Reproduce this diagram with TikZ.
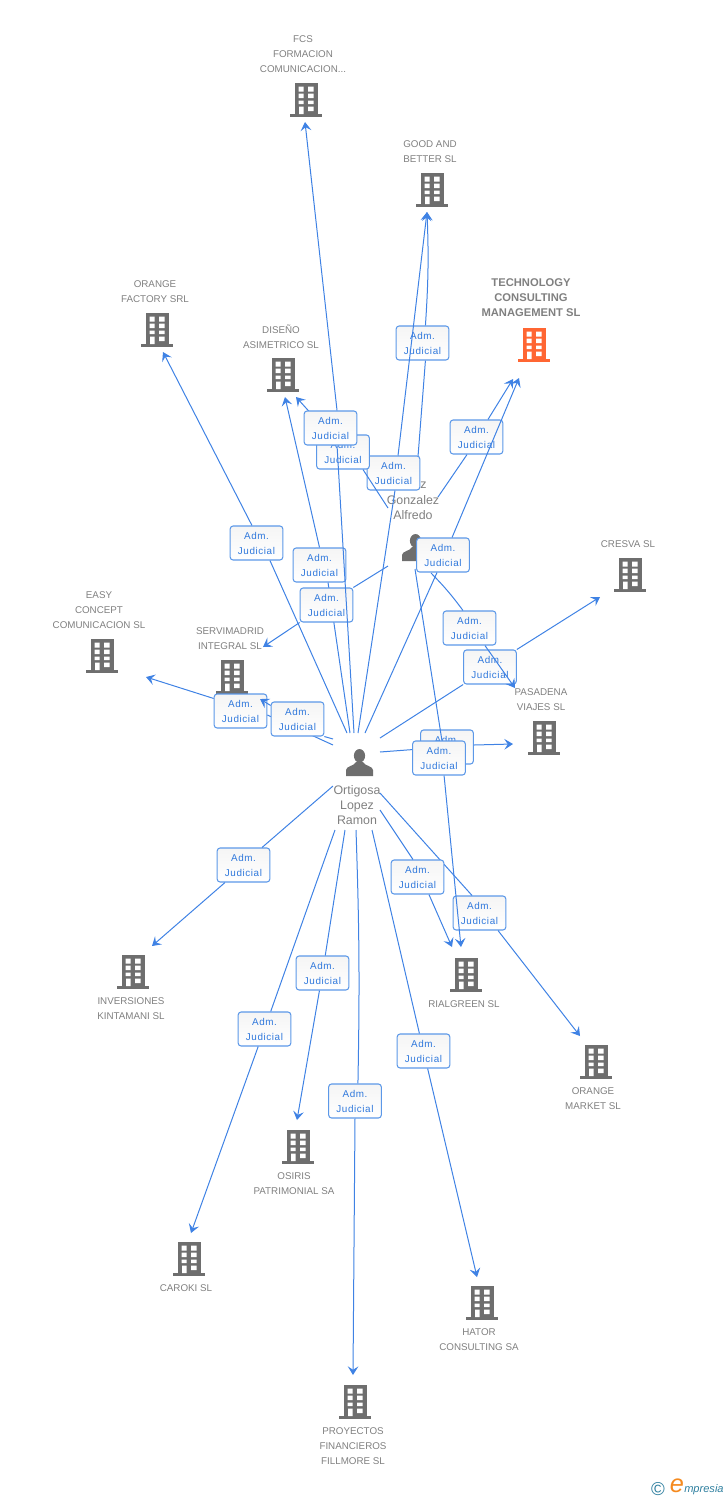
\documentclass[tikz,border=0pt]{standalone}
\usepackage{fontspec}
\setmainfont{Liberation Sans}
\usetikzlibrary{arrows.meta}
\definecolor{edgeblue}{HTML}{3F82E4}
\definecolor{labblue}{HTML}{2F78DC}
\definecolor{boxblue}{HTML}{5C98E8}
\definecolor{txtgrey}{HTML}{808080}
\definecolor{icongrey}{HTML}{6E6E6E}
\definecolor{hotorange}{HTML}{FF6633}
\definecolor{logoteal}{HTML}{2F7F9F}
\definecolor{logoorange}{HTML}{F58A1F}
\tikzset{
  edge/.style={draw=edgeblue,line width=0.75pt},
  tip/.style={edge,-{Stealth[length=6.5pt,width=8pt,inset=2.6pt]}},
  adm/.style={draw=boxblue,line width=0.8pt,rounded corners=2.2pt,top color=black!4,bottom color=white,
    minimum width=39.5pt,minimum height=25.5pt,inner sep=0pt,align=center,text=labblue,
    font=\fontsize{7.4}{11.25}\selectfont\addfontfeatures{LetterSpace=6}},
  co/.style={text=txtgrey,align=center,inner sep=0pt,font=\fontsize{7.35}{11.25}\selectfont},
  cohot/.style={text=txtgrey,align=center,inner sep=0pt,font=\fontsize{8.4}{11.25}\selectfont\bfseries},
  pers/.style={text=txtgrey,align=center,inner sep=0pt,font=\fontsize{9.3}{11.25}\selectfont},
  pics/bldg/.style={code={
    \fill[#1] (-11.5,0) rectangle (11.5,32);
    \fill[#1] (-16,31) rectangle (16,34);
    \fill[white] (-7.5,3.5) rectangle (-2.5,8.5) (2,3.5) rectangle (7.5,8.5)
      (-7.5,10.5) rectangle (-2.5,15) (2,10.5) rectangle (7.5,15)
      (-7.5,17.5) rectangle (-2.5,21) (2,17.5) rectangle (7.5,21)
      (-7,23.5) rectangle (-2.5,31) (2,23.5) rectangle (7.5,28);
  }},
  pics/person/.style={code={
    \fill[icongrey] (0,6.8) ellipse [x radius=5.6,y radius=6.8];
    \fill[icongrey] (-13.5,27) -- (-13.5,21) .. controls (-13.5,17) and (-5,17) .. (-3.5,13)
      -- (3.5,13) .. controls (5,17) and (13.5,17) .. (13.5,21) -- (13.5,27) -- cycle;
  }}
}
\newcommand{\adml}{Adm.\\Judicial}
\begin{document}
\begin{tikzpicture}[x=0.75pt,y=-0.75pt]
\useasboundingbox (0,0) rectangle (728,1500);
% company icons
\pic (bFCS) at (306,83) {bldg=icongrey};
\pic (bGOOD) at (432,173) {bldg=icongrey};
\pic (bTECH) at (534,328) {bldg=hotorange};
\pic (bOF) at (157,313) {bldg=icongrey};
\pic (bDIS) at (283,358) {bldg=icongrey};
\pic (bCRE) at (630,558) {bldg=icongrey};
\pic (bEASY) at (102,639) {bldg=icongrey};
\pic (bSERV) at (232,660) {bldg=icongrey};
\pic (bPAS) at (544,721) {bldg=icongrey};
\pic (bINV) at (133,955) {bldg=icongrey};
\pic (bRIAL) at (466,958) {bldg=icongrey};
\pic (bOM) at (596,1045) {bldg=icongrey};
\pic (bOSI) at (298,1130) {bldg=icongrey};
\pic (bCAR) at (189,1242) {bldg=icongrey};
\pic (bHAT) at (482,1286) {bldg=icongrey};
\pic (bPRO) at (355,1385) {bldg=icongrey};
% company names
\node[co] (tFCS) at (303,54) {FCS\\FORMACION\\COMUNICACION...};
\node[co] (tGOOD) at (430,151.5) {GOOD AND\\BETTER SL};
\node[cohot] (tTECH) at (531,298) {TECHNOLOGY\\CONSULTING\\MANAGEMENT SL};
\node[co] (tOF) at (155,291.5) {ORANGE\\FACTORY SRL};
\node[co] (tDIS) at (281,336.5) {DISEÑO\\ASIMETRICO SL};
\node[co] (tCRE) at (628,544) {CRESVA SL};
\node[co] (tEASY) at (99,610) {EASY\\CONCEPT\\COMUNICACION SL};
\node[co] (tSERV) at (230,638.5) {SERVIMADRID\\INTEGRAL SL};
\node[co] (tPAS) at (541,699.5) {PASADENA\\VIAJES SL};
\node[co] (tINV) at (131,1008.5) {INVERSIONES\\KINTAMANI SL};
\node[co] (tRIAL) at (464,1004) {RIALGREEN SL};
\node[co] (tOM) at (593,1098.5) {ORANGE\\MARKET SL};
\node[co] (tOSI) at (294,1183.5) {OSIRIS\\PATRIMONIAL SA};
\node[co] (tCAR) at (186,1288) {CAROKI SL};
\node[co] (tHAT) at (479,1339.5) {HATOR\\CONSULTING SA};
\node[co] (tPRO) at (353,1446) {PROYECTOS\\FINANCIEROS\\FILLMORE SL};
% people
\pic (pO) at (359.5,749) {person};
\node[pers] (tO) at (357,805) {Ortigosa\\Lopez\\Ramon};
\pic (pA) at (415.5,534) {person};
\node[pers] (tAz) at (423.5,485) {z};
\node[pers] (tA) at (413,507.5) {Gonzalez\\Alfredo};
% free ends: sources
\coordinate (oa) at (347,733);
\coordinate (ob) at (350,733);
\coordinate (oc) at (354,733);
\coordinate (od) at (358,733);
\coordinate (oe) at (365,733);
\coordinate (of) at (380,738);
\coordinate (og) at (380,752);
\coordinate (oh) at (333,745);
\coordinate (oi) at (333,739);
\coordinate (oj) at (333,786);
\coordinate (ok) at (335,830);
\coordinate (ol) at (345,830);
\coordinate (om) at (356,830);
\coordinate (on) at (372,830);
\coordinate (oo) at (380,810);
\coordinate (op) at (380,793);
\coordinate (aa) at (388,508);
\coordinate (ab) at (388,566);
\coordinate (ac) at (438,497);
\coordinate (ad) at (431,573);
\coordinate (ae) at (415,569);
\coordinate (af) at (415.5,489);
% free ends: arrow tips
\coordinate (xa) at (163,352);
\coordinate (xb) at (285,397);
\coordinate (xc) at (305,122);
\coordinate (xd) at (427,212);
\coordinate (xe) at (519,378);
\coordinate (xf) at (600,597);
\coordinate (xg) at (513,744);
\coordinate (xh) at (146,677);
\coordinate (xi) at (260,699);
\coordinate (xj) at (152,946);
\coordinate (xk) at (191,1233);
\coordinate (xl) at (297,1120);
\coordinate (xm) at (353,1375);
\coordinate (xn) at (477,1277);
\coordinate (xo) at (452,947);
\coordinate (xp) at (580,1036);
\coordinate (xq) at (296,397);
\coordinate (xr) at (263,647);
\coordinate (xs) at (513,379);
\coordinate (xt) at (515,688);
\coordinate (xu) at (461,947);
% connectors with their labels
\node[adm] (L1) at (256.5,543) {\adml};
\draw[edge] (oa) -- ([xshift=10.1pt]L1.south); \draw[tip] ([xshift=-3.4pt]L1.north) -- (xa);
\node[adm] (L2) at (422.5,343) {\adml};
\draw[edge] (af) -- ([xshift=2.2pt]L2.south); \draw[tip] ([xshift=2.2pt]L2.north) to[bend right=3] (xd);
\node[adm] (L3) at (393.5,473) {\adml};
\draw[edge] (od) -- ([xshift=1.1pt]L3.south); \draw[tip] ([xshift=3.4pt]L3.north) -- (xd);
\node[adm] (L4) at (343,452) {\adml};
\draw[edge] (aa) -- ([xshift=15pt]L4.south); \draw[tip] ([xshift=-9.75pt]L4.north) -- (xq);
\node[adm] (L5) at (319.5,565) {\adml};
\draw[edge] (ob) -- ([xshift=6.4pt]L5.south); \draw[tip] (L5.north) -- (xb);
\node[adm] (L6) at (326.5,605) {\adml};
\draw[edge] (ab) -- (L6.north east); \draw[tip] (L6.south west) -- (xr);
\node[adm] (L7) at (330.5,428) {\adml};
\draw[edge] (oc) -- ([xshift=4.9pt]L7.south); \draw[tip] ([xshift=4.9pt]L7.north) -- (xc);
\node[adm] (L8) at (476.5,437) {\adml};
\draw[edge] (ac) -- ([xshift=-7.1pt]L8.south); \draw[tip] ([xshift=8.6pt]L8.north) -- (xs);
\node[adm] (L9) at (443,555) {\adml};
\draw[edge] (oe) -- ([xshift=-4.5pt]L9.south); \draw[tip] ([xshift=6.8pt]L9.north) -- (xe);
\node[adm] (L10) at (490,667) {\adml};
\draw[edge] (of) -- (L10.south west); \draw[tip] (L10.north east) -- (xf);
\node[adm] (L11) at (469.5,628) {\adml};
\draw[edge] (ad) to[bend left=4] ([xshift=-4.9pt]L11.north); \draw[tip] ([xshift=11.6pt]L11.south) -- (xt);
\node[adm] (L22) at (479.5,913) {\adml};
\draw[edge] (op) -- ([xshift=-5.6pt]L22.north); \draw[tip] ([xshift=13.9pt]L22.south) -- (xp);
\node[adm] (L12) at (447,747) {\adml};
\draw[edge] (og) -- (L12); \draw[tip] ([yshift=1.5pt]L12.east) -- (xg);
\node[adm] (L13) at (439,758) {\adml};
\draw[edge] (ae) -- ([xshift=2.2pt]L13.north); \draw[tip] ([xshift=3.8pt]L13.south) -- (xu);
\node[adm] (L15) at (240.5,711) {\adml};
\draw[edge] (oh) -- ([yshift=-3pt]L15.east); \draw[tip] ([yshift=-3.75pt]L15.north west) -- (xh);
\node[adm] (L14) at (297.5,719) {\adml};
\draw[edge] (oi) -- (L14.south east); \draw[tip] ([yshift=-3pt]L14.north west) -- (xi);
\node[adm] (L16) at (243.5,865) {\adml};
\draw[edge] (oj) -- ([xshift=13.9pt]L16.north); \draw[tip] ([xshift=-13.9pt]L16.south) -- (xj);
\node[adm] (L17) at (264.5,1029) {\adml};
\draw[edge] (ok) -- (L17); \draw[tip] (L17) -- (xk);
\node[adm] (L18) at (322.5,973) {\adml};
\draw[edge] (ol) -- (L18); \draw[tip] (L18) -- (xl);
\node[adm] (L19) at (355,1101) {\adml};
\draw[edge] (om) to[bend left=1.5] ([xshift=2.2pt]L19.north); \draw[tip] (L19.south) -- (xm);
\node[adm] (L20) at (423.5,1051) {\adml};
\draw[edge] (on) -- (L20); \draw[tip] (L20) -- (xn);
\node[adm] (L21) at (417.5,877) {\adml};
\draw[edge] (oo) -- ([xshift=-3.4pt]L21.north); \draw[tip] ([xshift=8.6pt]L21.south) -- (xo);
% logo
\node[text=logoteal,inner sep=0pt,font=\fontsize{14}{15}\selectfont] (logoC) at (658,1489) {©};
\node[text=logoorange,inner sep=0pt,font=\fontsize{19}{20}\selectfont\itshape] (logoE) at (677,1486) {e};
\node[text=logoteal,inner sep=0pt,anchor=west,font=\fontsize{8.3}{12}\selectfont\itshape] (logoT) at (684,1489.5) {mpresia};
\end{tikzpicture}
\end{document}
